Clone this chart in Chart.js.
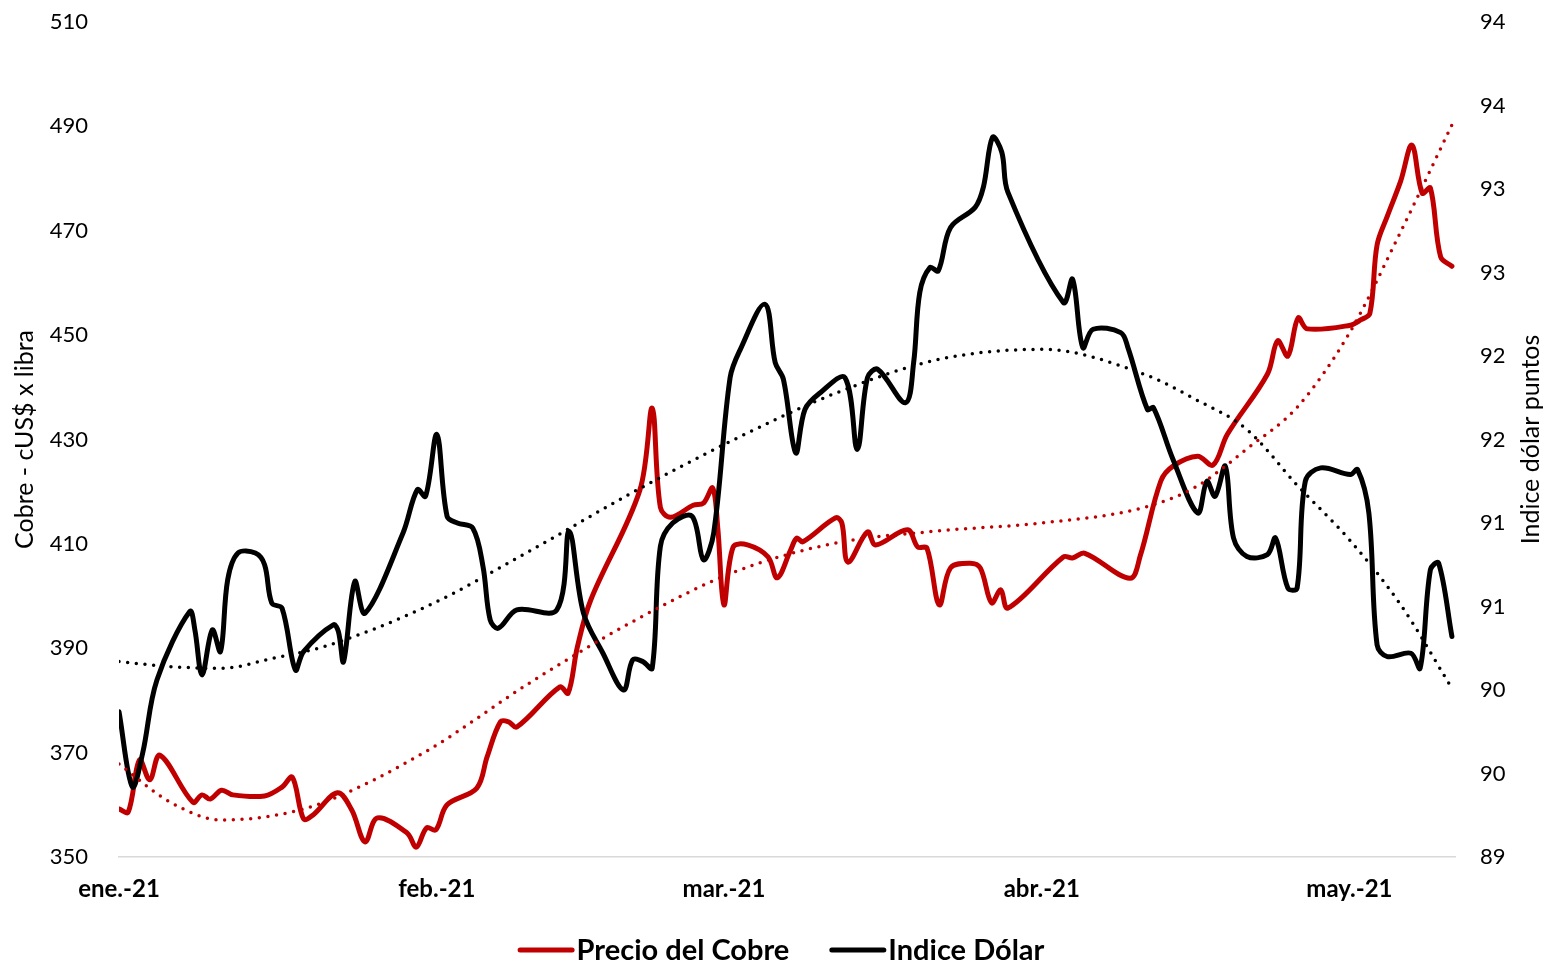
<!DOCTYPE html>
<html>
<head>
<meta charset="utf-8">
<script src="https://cdn.jsdelivr.net/npm/chart.js@4.4.1/dist/chart.umd.min.js"></script>
<style>
  html, body { margin: 0; padding: 0; background: #ffffff; }
  #wrap { width: 1546px; height: 964px; position: relative; }
</style>
</head>
<body>
<div id="wrap"><canvas id="c"></canvas></div>
<script>
// ---- Data (x = days since 1 Jan 2021) ----
const monthDays = [0, 31, 59, 90, 120];
const monthLabels = ['ene.-21', 'feb.-21', 'mar.-21', 'abr.-21', 'may.-21'];

const copperDays = [0, 0.9, 2.0, 3.0, 4.0, 7.2, 8.1, 8.9, 10.0, 11.1, 14.2, 15.9, 16.9, 18.0, 18.9,
  21.3, 22.7, 24.0, 25.2, 28.1, 29.0, 30.0, 30.9, 32.0, 34.9, 35.9, 37.2, 38.0, 38.8, 43.0, 43.8,
  44.7, 46.0, 50.8, 52.0, 52.8, 53.8, 56.0, 57.0, 57.9, 58.4, 59.0, 59.9, 61.3, 63.3, 64.2, 65.5,
  66.1, 66.7, 69.9, 70.5, 71.1, 73.0, 73.8, 76.9, 77.9, 78.8, 80.0, 81.1, 83.0, 84.0, 85.1, 86.0,
  86.7, 92.1, 93.0, 94.2, 98.6, 99.6, 101.6, 102.8, 105.2, 106.7, 108.1, 112.0, 113.0, 114.0,
  115.0, 115.9, 120.1, 121.1, 122.0, 122.7, 123.7, 125.0, 126.1, 127.1, 127.9, 128.9, 130.0];
const copperValues = [359.2, 358.6, 368.6, 364.8, 369.5, 360.5, 361.9, 361.1, 362.8, 361.9, 361.7, 363.4, 365.3, 357.3, 358.0,
  362.3, 359.0, 352.9, 357.5, 354.6, 351.9, 355.6, 355.2, 360.0, 363.2, 369.2, 375.9, 375.9, 374.9, 382.6, 381.4,
  390.2, 399.2, 420.3, 436.0, 417.0, 415.1, 417.4, 417.8, 420.7, 413.0, 398.3, 409.4, 409.8, 407.5, 403.5, 408.8,
  411.1, 410.4, 415.0, 414.0, 406.5, 412.3, 409.8, 412.7, 409.4, 409.2, 398.3, 405.4, 406.3, 405.4, 398.7, 401.2,
  397.7, 407.5, 407.3, 408.2, 403.4, 407.7, 422.0, 424.9, 426.8, 425.1, 431.0, 442.5, 448.9, 446.0,
  453.3, 451.2, 451.9, 452.9, 454.2, 467.3, 472.8, 479.5, 486.4, 477.2, 478.2, 465.0, 463.2];

const dollarDays = [0, 1.3, 2.3, 3.7, 6.9, 7.4, 8.1, 9.1, 9.9, 10.6, 11.6, 13.3, 14.2, 14.9, 15.9,
  17.2, 18.0, 20.9, 21.4, 21.9, 23.0, 24.0, 27.7, 29.1, 29.9, 31.0, 32.0, 33.0, 34.5, 35.5, 36.2,
  37.0, 38.8, 42.7, 43.9, 45.3, 47.2, 49.2, 50.1, 51.1, 52.0, 52.8, 54.0, 55.9, 57.0, 58.0, 59.6,
  60.6, 63.0, 64.0, 64.8, 66.0, 66.9, 68.4, 70.8, 72.0, 73.0, 74.0, 76.7, 77.5, 78.1, 79.1, 79.9,
  81.1, 83.5, 84.3, 85.2, 86.1, 86.7, 92.1, 93.0, 94.0, 95.0, 97.7, 98.4, 100.3, 100.9, 102.8,
  105.2, 106.1, 106.9, 107.9, 108.7, 110.0, 112.0, 112.8, 114.0, 114.9, 115.7, 117.2, 120.1,
  120.8, 121.9, 122.7, 123.7, 126.0, 126.9, 127.9, 128.7, 130.0];
const dollarValues = [89.87, 89.42, 89.62, 90.06, 90.47, 90.36, 90.09, 90.36, 90.23, 90.66, 90.82, 90.82, 90.75, 90.52, 90.49,
  90.12, 90.23, 90.39, 90.35, 90.17, 90.65, 90.46, 90.94, 91.20, 91.16, 91.53, 91.04, 91.00, 90.97, 90.74, 90.42,
  90.37, 90.48, 90.48, 90.95, 90.46, 90.22, 90.00, 90.18, 90.17, 90.13, 90.86, 91.00, 91.04, 90.78, 90.94, 91.87,
  92.04, 92.31, 91.96, 91.86, 91.42, 91.68, 91.78, 91.87, 91.44, 91.87, 91.92, 91.72, 91.96, 92.38, 92.53, 92.51,
  92.77, 92.89, 93.01, 93.31, 93.22, 92.98, 92.32, 92.46, 92.05, 92.16, 92.14, 92.05, 91.68, 91.69, 91.38,
  91.06, 91.25, 91.16, 91.34, 90.91, 90.80, 90.81, 90.91, 90.61, 90.61, 91.25, 91.33, 91.29,
  91.32, 91.06, 90.27, 90.20, 90.22, 90.13, 90.72, 90.76, 90.32];

// Trendlines
const trendDays = [0, 5, 10, 15, 20, 30, 40, 50, 60, 70, 80, 90, 100, 105, 110, 115, 120, 125, 130];
const copperTrend = [367.8, 360.5, 357.1, 357.9, 360.5, 370.3, 383.3, 395.0, 404.6, 410.2, 412.5, 414.0, 417.0, 420.9, 428.2, 436.4, 450.4, 469.8, 490.3];
const dollarTrend = [90.17, 90.14, 90.13, 90.19, 90.26, 90.50, 90.83, 91.18, 91.50, 91.78, 91.98, 92.04, 91.89, 91.74, 91.56, 91.22, 90.90, 90.51, 90.01];

const leftTicks = [350, 370, 390, 410, 430, 450, 470, 490, 510];
const seriesNames = ['Precio del Cobre', 'Indice Dólar'];
const axisTitles = ['Cobre - cUS$ x libra', 'Indice dólar puntos'];

// ---- Styles ----
const FONT = 'Lato, "Open Sans", "DejaVu Sans", sans-serif';
const RED = '#C00000';
const BLACK = '#000000';

const toXY = (xs, ys) => xs.map((x, i) => ({ x: x, y: ys[i] }));

const legendAndTitlePlugin = {
  id: 'customLegend',
  afterDraw(chart) {
    const ctx = chart.ctx;
    ctx.save();
    // right axis title (reads bottom-to-top)
    ctx.font = '25px ' + FONT;
    ctx.fillStyle = '#000';
    ctx.textAlign = 'center';
    ctx.textBaseline = 'middle';
    const ca = chart.chartArea;
    ctx.translate(1531, (ca.top + ca.bottom) / 2);
    ctx.rotate(-Math.PI / 2);
    ctx.fillText(axisTitles[1], 0, 0);
    ctx.restore();

    // legend
    ctx.save();
    ctx.font = 'bold 29px ' + FONT;
    ctx.textBaseline = 'middle';
    ctx.textAlign = 'left';
    const items = [{ t: seriesNames[0], c: RED }, { t: seriesNames[1], c: BLACK }];
    const lineW = 57, gap = 2, spacing = 40;
    const widths = items.map(it => ctx.measureText(it.t).width);
    let total = widths.reduce((a, b) => a + b, 0) + items.length * (lineW + gap) + spacing * (items.length - 1);
    let x = 781 - total / 2;
    const y = 950;
    items.forEach((it, i) => {
      ctx.strokeStyle = it.c;
      ctx.lineWidth = 5;
      ctx.lineCap = 'round';
      ctx.beginPath();
      ctx.moveTo(x + 2.5, y);
      ctx.lineTo(x + lineW - 2.5, y);
      ctx.stroke();
      ctx.fillStyle = '#000';
      ctx.fillText(it.t, x + lineW + gap, y + 1);
      x += lineW + gap + widths[i] + spacing;
    });
    ctx.restore();
  }
};

new Chart(document.getElementById('c'), {
  type: 'line',
  data: {
    datasets: [
      {
        label: seriesNames[0], data: toXY(copperDays, copperValues), yAxisID: 'y',
        borderColor: RED, borderWidth: 5, pointRadius: 0, tension: 0.35, order: 3,
        borderJoinStyle: 'round', borderCapStyle: 'round'
      },
      {
        label: seriesNames[1], data: toXY(dollarDays, dollarValues), yAxisID: 'y1',
        borderColor: BLACK, borderWidth: 5, pointRadius: 0, tension: 0.35, order: 2,
        borderJoinStyle: 'round', borderCapStyle: 'round'
      },
      {
        label: 'Tendencia Cobre', data: toXY(trendDays, copperTrend), yAxisID: 'y',
        borderColor: RED, borderWidth: 3.5, pointRadius: 0, cubicInterpolationMode: 'monotone',
        borderDash: [0, 8.7], borderCapStyle: 'round', order: 1
      },
      {
        label: 'Tendencia Dólar', data: toXY(trendDays, dollarTrend), yAxisID: 'y1',
        borderColor: BLACK, borderWidth: 3.5, pointRadius: 0, cubicInterpolationMode: 'monotone',
        borderDash: [0, 8.7], borderCapStyle: 'round', order: 0
      }
    ]
  },
  options: {
    responsive: true,
    maintainAspectRatio: false,
    animation: false,
    layout: { padding: { top: 22, right: 0, bottom: 57, left: 0 } },
    plugins: { legend: { display: false }, tooltip: { enabled: false } },
    scales: {
      x: {
        type: 'linear', min: 0, max: 130.3,
        afterBuildTicks: s => { s.ticks = monthDays.map(v => ({ value: v })); },
        ticks: {
          callback: v => monthLabels[monthDays.indexOf(v)],
          font: { family: FONT, size: 24, weight: 'bold' }, color: '#000',
          padding: 18, maxRotation: 0, autoSkip: false
        },
        grid: { display: true, drawOnChartArea: false, drawTicks: false, color: 'rgba(0,0,0,0)' },
        border: { display: true, color: '#d9d9d9', width: 1.5 },
        afterFit: s => { s.height = 50; }
      },
      y: {
        position: 'left', min: 350, max: 510,
        afterBuildTicks: s => { s.ticks = leftTicks.map(v => ({ value: v })); },
        ticks: { font: { family: FONT, size: 22 }, color: '#000', padding: 0 },
        grid: { display: true, drawOnChartArea: false, drawTicks: true, tickLength: 31, color: 'rgba(0,0,0,0)' },
        border: { display: false },
        title: { display: true, text: axisTitles[0], font: { family: FONT, size: 25 }, color: '#000', padding: { top: 10, bottom: 0 } },
        afterFit: s => { s.width = 119; }
      },
      y1: {
        position: 'right', min: 89, max: 94,
        ticks: {
          stepSize: 0.5, font: { family: FONT, size: 22 }, color: '#000', padding: 0,
          callback: v => String(Math.round(v))
        },
        grid: { display: true, drawOnChartArea: false, drawTicks: true, tickLength: 25, color: 'rgba(0,0,0,0)' },
        border: { display: false },
        afterFit: s => { s.width = 91; }
      }
    }
  },
  plugins: [legendAndTitlePlugin]
});
</script>
</body>
</html>
